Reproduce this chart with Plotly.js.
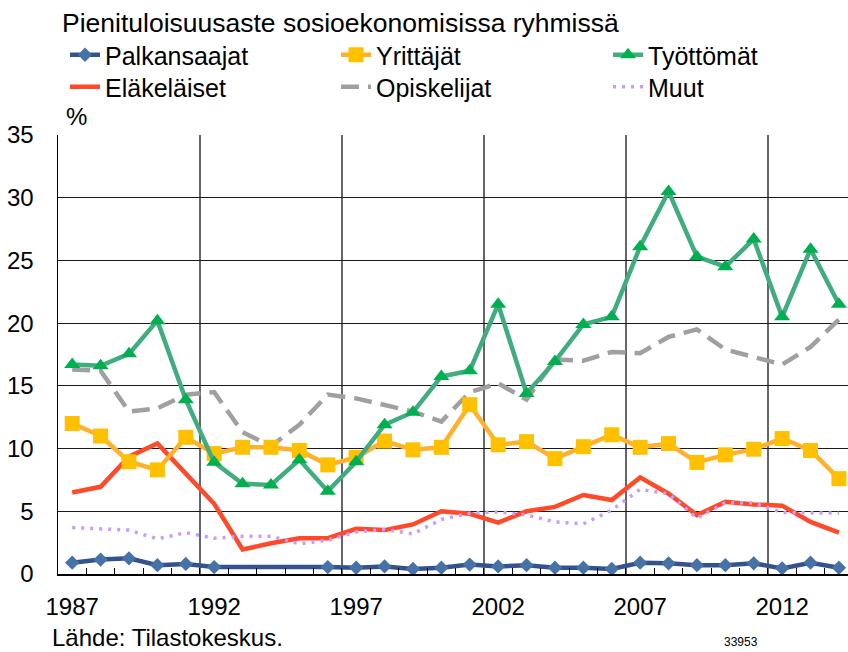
<!DOCTYPE html>
<html>
<head>
<meta charset="utf-8">
<script src="https://cdn.plot.ly/plotly-3.0.1.min.js"></script>
<style>
html,body{margin:0;padding:0;background:#fff;}
#chart{width:848px;height:652px;}
</style>
</head>
<body>
<div id="chart"></div>
<script>
const years = [1987,1988,1989,1990,1991,1992,1993,1994,1995,1996,1997,1998,1999,2000,2001,2002,2003,2004,2005,2006,2007,2008,2009,2010,2011,2012,2013,2014];
const tickYears = [1987,1992,1997,2002,2007,2012];
const tickLabels = ["1987","1992","1997","2002","2007","2012"];

const palkansaajat = [0.9,1.15,1.25,0.7,0.8,0.55,null,null,null,0.55,0.5,0.6,0.4,0.5,0.75,0.6,0.7,0.5,0.5,0.4,0.9,0.85,0.7,0.7,0.85,0.45,0.9,0.5];
const yrittajat = [12.0,11.0,8.95,8.3,10.9,9.6,10.1,10.1,9.85,8.7,9.3,10.6,9.9,10.1,13.5,10.3,10.55,9.2,10.15,11.1,10.1,10.4,8.9,9.5,9.95,10.8,9.85,7.6];
const tyottomat = [16.7,16.6,17.55,20.2,13.9,8.9,7.2,7.1,9.1,6.6,8.95,11.9,12.9,15.75,16.2,21.5,14.4,16.95,19.9,20.5,26.1,30.5,25.3,24.5,26.7,20.5,25.9,21.5];
const elakelaiset = [6.5,6.95,9.35,10.4,8.0,5.6,1.95,2.45,2.85,2.85,3.6,3.5,3.95,5.0,4.8,4.1,5.0,5.35,6.3,5.9,7.7,6.4,4.7,5.75,5.55,5.45,4.15,3.3];
const opiskelijat = [16.3,16.2,12.95,13.2,14.3,14.5,11.3,10.2,11.9,14.3,14.0,13.5,12.95,12.15,14.5,15.2,13.9,17.1,17.0,17.7,17.6,18.9,19.5,17.9,17.3,16.7,18.1,20.3];
const muut = [3.7,3.6,3.5,2.8,3.3,2.85,3.0,3.0,2.4,2.7,3.35,3.55,3.2,4.35,4.85,4.95,4.7,4.15,4.0,5.1,6.75,6.4,4.45,5.7,5.65,4.9,4.85,4.85];

const FONT = 'Liberation Sans, Arial, sans-serif';

const traces = [
  {name:'Eläkeläiset', x:years, y:elakelaiset, mode:'lines', legend:'legend4',
   line:{color:'#FF4A2A', width:4.5}},
  {name:'Opiskelijat', x:years, y:opiskelijat, mode:'lines', legend:'legend5',
   line:{color:'#A0A0A0', width:4.5, dash:'18px,9px'}},
  {name:'Muut', x:years, y:muut, mode:'lines', legend:'legend6',
   line:{color:'#CC99FF', width:3.5, dash:'3px,6px'}},
  {name:'Yrittäjät', x:years, y:yrittajat, mode:'lines+markers', legend:'legend2',
   line:{color:'#FFB12E', width:4.5}, marker:{symbol:'square', size:15, color:'#FFC000'}},
  {name:'Työttömät', x:years, y:tyottomat, mode:'lines+markers', legend:'legend3',
   line:{color:'#40AD7F', width:4.5}, marker:{symbol:'triangle-up', size:14, color:'#00B050'}},
  {name:'Palkansaajat', x:years, y:palkansaajat, xaxis:'x2', mode:'lines+markers', connectgaps:true, legend:'legend',
   line:{color:'#34528E', width:4.5}, marker:{symbol:'diamond', size:11, color:'#4672A8'}}
];
traces.forEach(t => { t.hoverinfo = 'skip'; t.cliponaxis = false; });

const xr = [1986.5, 2014.32];

function leg(px, py) {
  return {orientation:'h', xref:'container', x:px/848, xanchor:'left', yref:'container', y:1-py/652, yanchor:'middle',
          font:{family:FONT, size:25, color:'#000'}, bgcolor:'rgba(0,0,0,0)', itemwidth:30};
}

const layout = {
  width:848, height:652,
  margin:{l:58, r:0, t:135, b:78, pad:0},
  paper_bgcolor:'#fff', plot_bgcolor:'#fff',
  font:{family:FONT, size:24, color:'#000'},
  title:{text:'Pienituloisuusaste sosioekonomisissa ryhmissä', font:{family:FONT, size:26.5, color:'#000'},
         xref:'container', x:62/848, xanchor:'left', yref:'container', y:1-23/652, yanchor:'middle'},
  xaxis:{type:'linear', range:xr, tickmode:'linear', tick0:1986.5, dtick:5, showticklabels:false,
         showgrid:true, gridcolor:'#666', gridwidth:1.2, zeroline:false,
         showline:true, linecolor:'#000', linewidth:2, ticks:'inside', ticklen:6, tickcolor:'#000', tickwidth:1,
         minor:{tickmode:'linear', tick0:1986.5, dtick:1, ticks:'inside', ticklen:6, tickcolor:'#000', tickwidth:1, showgrid:false},
         fixedrange:true},
  xaxis2:{type:'linear', range:xr, overlaying:'x', anchor:'y', side:'bottom', tickmode:'array',
          tickvals:tickYears, ticktext:tickLabels, showgrid:false, zeroline:false, showline:false, ticks:'',
          ticklabelstandoff:16, tickfont:{family:FONT, size:24, color:'#000'}, fixedrange:true},
  yaxis:{range:[0,35], tickmode:'linear', tick0:0, dtick:5, showgrid:true, gridcolor:'#1a1a1a', gridwidth:1,
         zeroline:false, showline:true, linecolor:'#000', linewidth:1.5, ticks:'',
         ticklabelstandoff:18, tickfont:{family:FONT, size:24, color:'#000'}, fixedrange:true},
  showlegend:true,
  legend:leg(65,55), legend2:leg(336,55), legend3:leg(608,55),
  legend4:leg(65,87), legend5:leg(336,87), legend6:leg(608,87),
  annotations:[
    {text:'%', xref:'paper', yref:'paper', x:6/790, y:1+18/438.8, xanchor:'left', yanchor:'middle', showarrow:false,
     font:{family:FONT, size:24, color:'#000'}},
    {text:'Lähde: Tilastokeskus.', xref:'paper', yref:'paper', x:-8/790, y:-(637-573.8)/438.8, xanchor:'left', yanchor:'middle',
     showarrow:false, font:{family:FONT, size:24, color:'#000'}},
    {text:'33953', xref:'paper', yref:'paper', x:(741-58)/790, y:-(642-573.8)/438.8, xanchor:'center', yanchor:'middle',
     showarrow:false, font:{family:FONT, size:12, color:'#000'}}
  ]
};

Plotly.newPlot('chart', traces, layout, {staticPlot:true, displayModeBar:false});
</script>
</body>
</html>
